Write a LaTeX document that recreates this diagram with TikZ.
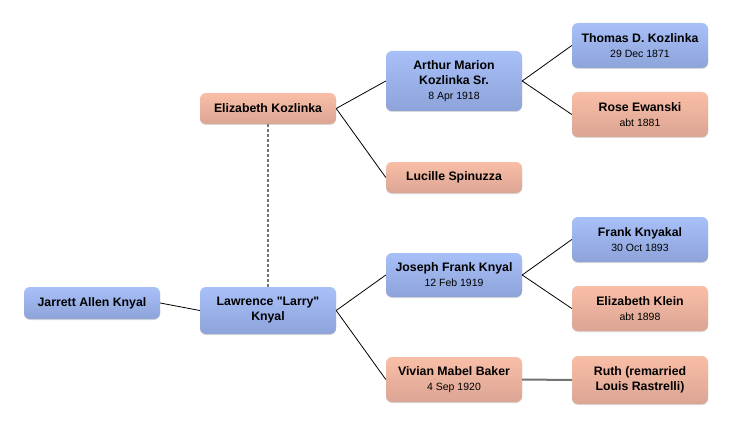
\documentclass[tikz,border=0pt]{standalone}
\usepackage{fontspec}
\setmainfont{Liberation Sans}[Ligatures=TeXOff]
\usetikzlibrary{shadows}
\definecolor{bluetop}{HTML}{A8C0F8}
\definecolor{bluebot}{HTML}{8DA3DA}
\definecolor{redtop}{HTML}{F9BEA7}
\definecolor{redbot}{HTML}{DBA594}
\tikzset{
  person/.style={rectangle, rounded corners=6pt, minimum width=136pt, align=center,
    inner sep=2pt, font=\fontsize{12.3}{15}\selectfont\bfseries,
    drop shadow={shadow xshift=0pt, shadow yshift=-1pt, opacity=0.25, fill=black!60}},
  male/.style={person, top color=bluetop, bottom color=bluebot, draw=none},
  female/.style={person, top color=redtop, bottom color=redbot, draw=none},
  link/.style={draw=black, line width=0.8pt}
}
\newcommand{\dte}[1]{{\fontsize{10.5}{13}\selectfont\mdseries #1}}
\begin{document}
\begin{tikzpicture}[x=1pt,y=-1pt]
\useasboundingbox[fill=white] (0,0) rectangle (732,428);
\node[male, minimum height=32pt] (jarrett) at (92,303) {Jarrett Allen Knyal};
\node[male, minimum height=47pt] (larry) at (268,310.5) {Lawrence "Larry"\\Knyal};
\node[female, minimum height=31pt] (eliz) at (268,108.5) {Elizabeth Kozlinka};
\node[male, minimum height=60pt] (arthur) at (454,81) {Arthur Marion\\Kozlinka Sr.\\\dte{8 Apr 1918}};
\node[female, minimum height=31pt] (lucille) at (454,177.5) {Lucille Spinuzza};
\node[male, minimum height=45pt] (thomas) at (640,45.5) {Thomas D. Kozlinka\\\dte{29 Dec 1871}};
\node[female, minimum height=45pt] (rose) at (640,114.5) {Rose Ewanski\\\dte{abt 1881}};
\node[male, minimum height=44pt] (joseph) at (454,275) {Joseph Frank Knyal\\\dte{12 Feb 1919}};
\node[female, minimum height=45pt] (vivian) at (454,379.5) {Vivian Mabel Baker\\\dte{4 Sep 1920}};
\node[male, minimum height=45pt] (frank) at (640,239.5) {Frank Knyakal\\\dte{30 Oct 1893}};
\node[female, minimum height=45pt] (klein) at (640,308.5) {Elizabeth Klein\\\dte{abt 1898}};
\node[female, minimum height=48pt] (ruth) at (640,380) {Ruth (remarried\\Louis Rastrelli)};
\draw[link] (jarrett.east) -- (larry.west);
\draw[link] (larry.east) -- (joseph.west);
\draw[link] (larry.east) -- (vivian.west);
\draw[link] (eliz.east) -- (arthur.west);
\draw[link] (eliz.east) -- (lucille.west);
\draw[link] (arthur.east) -- (thomas.west);
\draw[link] (arthur.east) -- (rose.west);
\draw[link] (joseph.east) -- (frank.west);
\draw[link] (joseph.east) -- (klein.west);
\draw[draw=black!55, line width=2pt] (vivian.east) -- (ruth.west);
\draw[draw=black!55, line width=1.6pt, dash pattern=on 2.5pt off 2.5pt] (eliz.south) -- (larry.north);
\end{tikzpicture}
\end{document}
